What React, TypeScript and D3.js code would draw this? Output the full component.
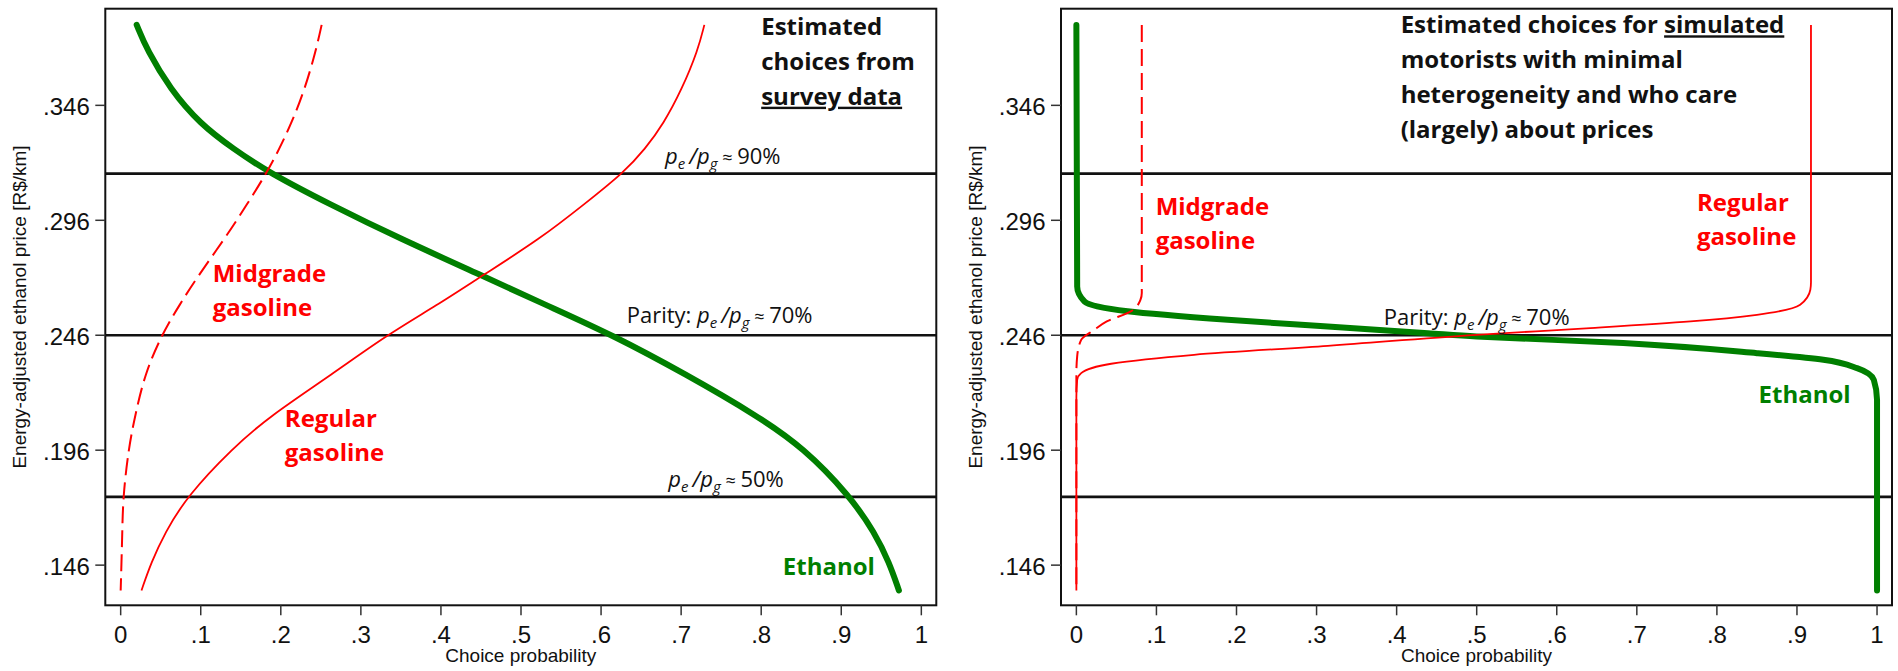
import React from "react";
import * as d3 from "d3";

// axis ticks shared by both panels
const xTicks = [0, 0.1, 0.2, 0.3, 0.4, 0.5, 0.6, 0.7, 0.8, 0.9, 1];
const xTickLabels = ["0", ".1", ".2", ".3", ".4", ".5", ".6", ".7", ".8", ".9", "1"];
const yTicks = [0.146, 0.196, 0.246, 0.296, 0.346];
const yTickLabels = [".146", ".196", ".246", ".296", ".346"];

// price ratio reference lines (90%, parity 70%, 50%)
const ratioPrices = [0.3163, 0.246, 0.1757];

// left panel: estimated choices from survey data
const surveyPrice = [0.135, 0.147, 0.16, 0.176, 0.197, 0.211, 0.229, 0.246, 0.259, 0.272, 0.288, 0.303, 0.317, 0.327, 0.338, 0.353, 0.37, 0.381];
const surveyEthanol = [0.972, 0.96, 0.942, 0.911, 0.853, 0.795, 0.706, 0.615, 0.532, 0.451, 0.349, 0.261, 0.184, 0.141, 0.099, 0.062, 0.033, 0.02];
const surveyRegular = [0.026, 0.038, 0.055, 0.083, 0.14, 0.187, 0.264, 0.332, 0.395, 0.452, 0.524, 0.579, 0.629, 0.655, 0.678, 0.701, 0.721, 0.729];
const surveyMidgrade = [0.0, 0.001, 0.002, 0.003, 0.01, 0.018, 0.03, 0.051, 0.073, 0.097, 0.13, 0.158, 0.183, 0.198, 0.213, 0.23, 0.244, 0.251];

// right panel: simulated motorists
const simEthanolPrice = [0.381, 0.2672, 0.2607, 0.2564, 0.2527, 0.2498, 0.2469, 0.2455, 0.2426, 0.2382, 0.2353, 0.2317, 0.2266, 0.2179, 0.135];
const simEthanol = [0.0, 0.001, 0.01, 0.064, 0.189, 0.314, 0.439, 0.5, 0.683, 0.85, 0.933, 0.975, 0.996, 1.0, 1.0];
const simRegularPrice = [0.381, 0.269, 0.2658, 0.2593, 0.2549, 0.252, 0.2491, 0.2462, 0.2414, 0.2375, 0.2336, 0.2295, 0.2266, 0.219, 0.135];
const simRegular = [0.9175, 0.9175, 0.9167, 0.904, 0.85, 0.767, 0.642, 0.5, 0.314, 0.147, 0.0435, 0.006, 0.001, 0.0, 0.0];
const simMidgradePrice = [0.381, 0.2644, 0.2614, 0.2564, 0.252, 0.2484, 0.244, 0.2368, 0.2295, 0.135];
const simMidgrade = [0.0817, 0.0817, 0.08, 0.068, 0.038, 0.0225, 0.006, 0.001, 0.0, 0.0];

const plotW = 831;
const plotH = 596.6;
const green = "#007f00";
const red = "#ff0000";
const labelFont = "'Open Sans', sans-serif";
const axisFont = "'Liberation Sans', Arial, sans-serif";

const xScale = d3.scaleLinear().domain([-0.0192, 1.0187]).range([0, plotW]);
const yScale = d3.scaleLinear().domain([0.12853, 0.38804]).range([plotH, 0]);

function pathFor(prices: number[], probs: number[], curve: d3.CurveFactory) {
  const pts = prices
    .map((p, i) => [probs[i], p] as [number, number])
    .sort((a, b) => b[1] - a[1]);
  return d3
    .line<[number, number]>()
    .x((d) => xScale(d[0]))
    .y((d) => yScale(d[1]))
    .curve(curve)(pts) as string;
}

function RatioLabel({ x, y, prefix, pct }: { x: number; y: number; prefix: string; pct: string }) {
  return (
    <text x={x} y={y} fontFamily={labelFont} fontSize={22} fill="#111">
      {prefix}
      <tspan fontStyle="italic">p</tspan>
      <tspan fontStyle="italic" fontSize={15} dy={5}>e</tspan>
      <tspan fontStyle="italic" dy={-5} dx={4}>/</tspan>
      <tspan fontStyle="italic">p</tspan>
      <tspan fontStyle="italic" fontSize={15} dy={5}>g</tspan>
      <tspan fontSize={18} dy={-5}>{" \u2248 "}</tspan>
      <tspan>{pct}</tspan>
    </text>
  );
}

function TwoLines({ x, y, lines, fill }: { x: number; y: number; lines: string[]; fill: string }) {
  return (
    <text fontFamily={labelFont} fontWeight={700} fontSize={24} fill={fill}>
      {lines.map((l, i) => (
        <tspan key={i} x={x} y={y + i * 34}>{l}</tspan>
      ))}
    </text>
  );
}

function Panel({ left, children, ethanol, regular, midgrade }: any) {
  return (
    <g transform={`translate(${left},8.7)`}>
      {ratioPrices.map((p, i) => (
        <line key={i} x1={0} x2={plotW} y1={yScale(p)} y2={yScale(p)} stroke="#111" strokeWidth={2.6} />
      ))}
      <path d={ethanol} fill="none" stroke={green} strokeWidth={6} strokeLinecap="round" strokeLinejoin="round" />
      <path d={regular} fill="none" stroke={red} strokeWidth={1.8} />
      <path d={midgrade} fill="none" stroke={red} strokeWidth={2} strokeDasharray="17 7" />
      <rect x={0} y={0} width={plotW} height={plotH} fill="none" stroke="#111" strokeWidth={2} />
      {xTicks.map((t, i) => (
        <g key={t} transform={`translate(${xScale(t)},${plotH})`}>
          <line y1={0} y2={10} stroke="#333" strokeWidth={1.5} />
          <text y={38} textAnchor="middle" fontFamily={axisFont} fontSize={24} fill="#111">{xTickLabels[i]}</text>
        </g>
      ))}
      {yTicks.map((t, i) => (
        <g key={t} transform={`translate(0,${yScale(t)})`}>
          <line x1={-10} x2={0} stroke="#333" strokeWidth={1.5} />
          <text x={-15.5} y={9.5} textAnchor="end" fontFamily={axisFont} fontSize={24} fill="#111">{yTickLabels[i]}</text>
        </g>
      ))}
      <text x={plotW / 2} y={653} textAnchor="middle" fontFamily={axisFont} fontSize={19} fill="#111">Choice probability</text>
      <text transform={`translate(-79,${plotH / 2}) rotate(-90)`} textAnchor="middle" fontFamily={axisFont} fontSize={19} fill="#111">
        Energy-adjusted ethanol price [R$/km]
      </text>
      {children}
    </g>
  );
}

export default function App() {
  React.useEffect(() => {
    document.body.style.margin = "0";
  }, []);
  const yr = (i: number) => yScale(ratioPrices[i]);
  return (
    <svg width={1898} height={671} style={{ position: "absolute", left: 0, top: 0, background: "#fff" }}>
      <Panel
        left={105.3}
        ethanol={pathFor(surveyPrice, surveyEthanol, d3.curveBasis)}
        regular={pathFor(surveyPrice, surveyRegular, d3.curveBasis)}
        midgrade={pathFor(surveyPrice, surveyMidgrade, d3.curveBasis)}
      >
        <text fontFamily={labelFont} fontWeight={700} fontSize={24} fill="#111">
          <tspan x={xScale(0.8)} y={26}>Estimated</tspan>
          <tspan x={xScale(0.8)} y={61}>choices from</tspan>
          <tspan x={xScale(0.8)} y={96} textDecoration="underline">survey data</tspan>
        </text>
        <RatioLabel x={xScale(0.68)} y={yr(0) - 10} prefix="" pct="90%" />
        <RatioLabel x={xScale(0.632)} y={yr(1) - 12} prefix="Parity: " pct="70%" />
        <RatioLabel x={xScale(0.684)} y={yr(2) - 10} prefix="" pct="50%" />
        <TwoLines x={xScale(0.115)} y={yScale(0.2692)} lines={["Midgrade", "gasoline"]} fill={red} />
        <TwoLines x={xScale(0.205)} y={yScale(0.206)} lines={["Regular", "gasoline"]} fill={red} />
        <TwoLines x={xScale(0.827)} y={yScale(0.1416)} lines={["Ethanol"]} fill={green} />
      </Panel>
      <Panel
        left={1061}
        ethanol={pathFor(simEthanolPrice, simEthanol, d3.curveMonotoneY)}
        regular={pathFor(simRegularPrice, simRegular, d3.curveMonotoneY)}
        midgrade={pathFor(simMidgradePrice, simMidgrade, d3.curveMonotoneY)}
      >
        <text fontFamily={labelFont} fontWeight={700} fontSize={24} fill="#111">
          <tspan x={xScale(0.405)} y={24.6}>Estimated choices for </tspan>
          <tspan textDecoration="underline">simulated</tspan>
          <tspan x={xScale(0.405)} y={59.6}>motorists with minimal</tspan>
          <tspan x={xScale(0.405)} y={94.6}>heterogeneity and who care</tspan>
          <tspan x={xScale(0.405)} y={129.6}>(largely) about prices</tspan>
        </text>
        <RatioLabel x={xScale(0.384)} y={yr(1) - 10} prefix="Parity: " pct="70%" />
        <TwoLines x={xScale(0.099)} y={yScale(0.2984)} lines={["Midgrade", "gasoline"]} fill={red} />
        <TwoLines x={xScale(0.775)} y={yScale(0.2999)} lines={["Regular", "gasoline"]} fill={red} />
        <TwoLines x={xScale(0.852)} y={yScale(0.2165)} lines={["Ethanol"]} fill={green} />
      </Panel>
    </svg>
  );
}
